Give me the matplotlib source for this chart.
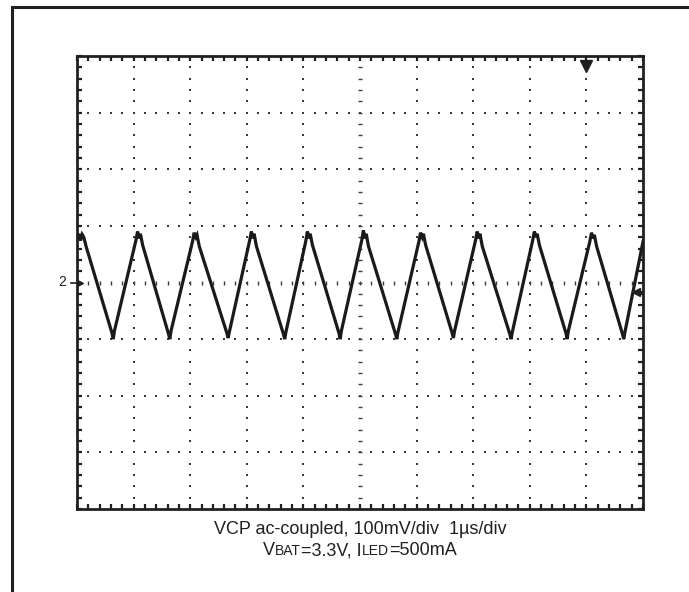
import numpy as np
import matplotlib
matplotlib.use("Agg")
import matplotlib.pyplot as plt
from matplotlib.lines import Line2D

plt.rcParams['font.family'] = ['Liberation Sans', 'DejaVu Sans']

# ---- data (time in us, voltage in mV, ac-coupled) ----
wave_t = [
    0.00, 0.03, 0.06, 0.09, 0.12, 0.16,
    0.62, 0.64, 0.66,
    1.04, 1.07, 1.10, 1.12, 1.16,
    1.62, 1.64, 1.66,
    2.04, 2.07, 2.10, 2.12, 2.16,
    2.65, 2.67, 2.69,
    3.05, 3.08, 3.11, 3.13, 3.17,
    3.65, 3.67, 3.69,
    4.04, 4.07, 4.10, 4.12, 4.16,
    4.63, 4.65, 4.67,
    5.03, 5.06, 5.09, 5.11, 5.15,
    5.63, 5.65, 5.67,
    6.04, 6.07, 6.10, 6.12, 6.16,
    6.63, 6.65, 6.67,
    7.04, 7.07, 7.10, 7.12, 7.16,
    7.65, 7.67, 7.69,
    8.05, 8.08, 8.11, 8.13, 8.17,
    8.64, 8.66, 8.68,
    9.06, 9.09, 9.12, 9.14, 9.18,
    9.64, 9.66, 9.68,
    10.00,
]
wave_mv = [
    78, 86, 74, 85, 80, 64,
    -90, -100, -86,
    74, 90, 78, 86, 66,
    -92, -100, -86,
    72, 88, 80, 84, 64,
    -90, -98, -88,
    74, 90, 78, 86, 64,
    -92, -100, -88,
    72, 90, 78, 86, 66,
    -90, -100, -86,
    74, 92, 78, 86, 64,
    -92, -100, -88,
    72, 88, 80, 86, 66,
    -90, -98, -86,
    74, 90, 78, 86, 64,
    -92, -100, -88,
    74, 90, 80, 86, 66,
    -90, -100, -86,
    72, 88, 78, 84, 64,
    -92, -100, -88,
    72,
]
trigger_time = 9.0        # trigger position marker (us)
ch_ref_mv = 0.0           # channel 2 ground reference
trig_level_mv = -17.0     # trigger level marker
caption1 = "VCP ac-coupled, 100mV/div  1\u00b5s/div"
caption2 = [("V", False), ("BAT", True), ("=3.3V, I", False), ("LED", True), ("=500mA", False)]

# ---- figure ----
W, H, DPI = 689, 592, 100
fig = plt.figure(figsize=(W / DPI, H / DPI), dpi=DPI)
fig.patch.set_facecolor("white")

ink = "#231f20"

# outer frame (left and top lines)
fx = 12 / W
fy = 1 - 7 / H
fig.add_artist(Line2D([fx, fx, 1.0], [0.0, fy, fy], transform=fig.transFigure,
                      color=ink, lw=2.2, solid_joinstyle="miter"))

L, R, T, B = 77, 643, 56, 509
ax = fig.add_axes([L / W, 1 - B / H, (R - L) / W, (B - T) / H])
ax.set_xlim(0, 10)
ax.set_ylim(-400, 400)

# dotted graticule
dotc = "#3a3a3a"
sub = np.arange(0, 10.001, 0.2)
subv = np.arange(-400, 400.1, 20)
for gx in range(1, 10):
    if gx == 5:
        continue
    ax.plot(np.full(len(subv), gx), subv, ls="none", marker="s", ms=1.6,
            color=dotc, mew=0)
for gy in range(-300, 400, 100):
    if gy == 0:
        continue
    ax.plot(sub, np.full(len(sub), gy), ls="none", marker="s", ms=1.6,
            color=dotc, mew=0)
# center crosshair: tiny dashes every 0.2 div
ax.plot(sub[1:-1], np.zeros(len(sub[1:-1])), ls="none", marker="|", ms=3.5,
        mew=1.0, color=dotc)
ax.plot(np.full(len(subv[1:-1]), 5.0), subv[1:-1], ls="none", marker="_",
        ms=3.5, mew=1.0, color=dotc)

# waveform
ax.plot(wave_t, wave_mv, color="#1a1a1a", lw=2.3, solid_joinstyle="miter", zorder=5)

# ticks on the frame
ax.set_xticks(np.arange(0, 10.001, 1))
ax.set_yticks(np.arange(-400, 401, 100))
ax.set_xticks(sub, minor=True)
ax.set_yticks(subv, minor=True)
ax.tick_params(which="both", direction="in", length=3.4, width=1.6, color=ink,
               top=True, right=True, labelbottom=False, labelleft=False)
for s in ax.spines.values():
    s.set_linewidth(2.0)
    s.set_color(ink)

# markers
ax.plot([trigger_time], [382], marker="v", ms=8, color=ink, zorder=6, clip_on=False)
ax.plot([trigger_time, trigger_time], [382, 400], color=ink, lw=1.5, zorder=6)
ax.plot([0.06], [ch_ref_mv], marker=">", ms=5, color=ink, clip_on=False, zorder=6)
ax.plot([-0.1, 0.06], [ch_ref_mv, ch_ref_mv], color=ink, lw=1.2, clip_on=False)
ax.text(-0.2, ch_ref_mv, "2", ha="right", va="center", fontsize=10, color=ink)
ax.plot([9.88], [trig_level_mv], marker="<", ms=6, color=ink, zorder=6)
ax.plot([9.88, 10.0], [trig_level_mv, trig_level_mv], color=ink, lw=1.5, zorder=6)

# captions
fig.text(360 / W, 1 - 529 / H, caption1, ha="center", va="center", fontsize=13,
         color=ink)

fig.canvas.draw()
renderer = fig.canvas.get_renderer()
pieces = []
for txt, small in caption2:
    t = fig.text(0, 0.5, txt, ha="left", va="baseline",
                 fontsize=10 if small else 13, color=ink)
    pieces.append(t)
widths = [p.get_window_extent(renderer).width for p in pieces]
total = sum(widths)
x0 = 360 - total / 2
base_y = 1 - 555 / H
for t, w in zip(pieces, widths):
    t.set_position((x0 / W, base_y))
    x0 += w

fig.savefig("out.png", dpi=DPI)
